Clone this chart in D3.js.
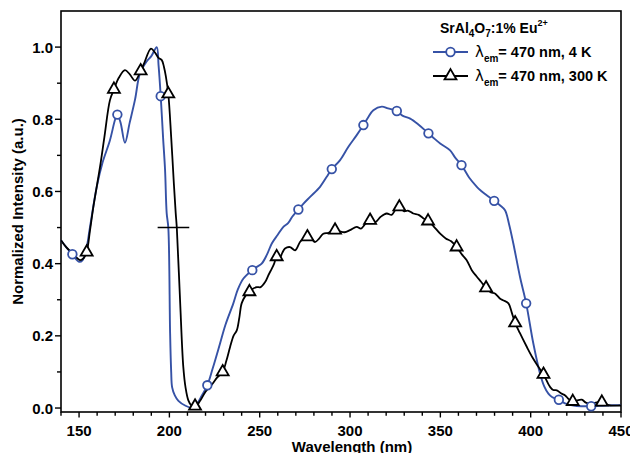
<!DOCTYPE html>
<html><head><meta charset="utf-8">
<script src="https://cdn.jsdelivr.net/npm/d3@7"></script>
<style>
body{margin:0;background:#fff;}
svg text{font-family:"Liberation Sans",Arial,sans-serif;font-weight:bold;}
</style></head>
<body><svg id="c" width="630" height="453"></svg>
<script>
// ---- data ----
const blueX = [140,143,146.3,150,152,154,156,159.8,163,167.1,170,171.2,173,175.4,178,181,183.7,187.4,190,193,194,195.2,196.5,197.6,198.5,199.4,200.4,201,201.5,203,205,208.7,212.4,215,218,221,224,228,231,235.4,238,241,245.9,248,251.1,254,256.7,260,263.1,265.7,268,271.4,274,277.9,283.4,287,289.9,294.5,299.1,303.7,307.4,310,312.9,317.6,321,325.9,329,333.3,338,343.4,347,349.9,355.4,358,361.7,366,370.2,372,376,379.8,383,385.8,388,390.4,394.1,397.5,401.5,405.2,407.5,409.8,412,415.6,419,423.7,428,433.5,438,442.2,450];
const blueY = [0.465,0.445,0.426,0.405,0.41,0.44,0.5,0.613,0.68,0.742,0.8,0.813,0.79,0.735,0.79,0.855,0.927,0.96,0.975,1.0,0.95,0.864,0.75,0.66,0.54,0.5,0.207,0.1,0.058,0.035,0.02,0.007,0.001,0.01,0.035,0.063,0.11,0.178,0.23,0.29,0.33,0.359,0.382,0.39,0.4,0.425,0.456,0.48,0.502,0.512,0.53,0.55,0.565,0.585,0.613,0.64,0.662,0.687,0.724,0.756,0.784,0.805,0.825,0.835,0.83,0.823,0.81,0.802,0.785,0.761,0.745,0.733,0.714,0.695,0.673,0.638,0.613,0.604,0.588,0.574,0.562,0.548,0.51,0.456,0.363,0.29,0.178,0.095,0.06,0.04,0.03,0.023,0.013,0.007,0.005,0.005,0.006,0.007,0.008];
const blueMarkX = [146.3,171.2,195.2,221,245.9,271.4,289.9,307.4,325.9,343.4,361.7,379.8,397.5,415.6,433.5];
const blueMarkY = [0.426,0.813,0.864,0.063,0.382,0.55,0.662,0.784,0.823,0.761,0.673,0.574,0.29,0.023,0.005];

const blackX = [140,143,146,148,150.5,152.5,154.2,156,158,161.6,164,167.1,169.3,172,175.4,178,181,184.1,186,189.8,192,194,195.8,197,198,199.4,201,202.5,203.5,204.1,205.9,207.7,209,210.5,212,214.2,217,220,224,226.5,229.5,231.5,233.6,235.5,237.3,238.7,240,242,244.3,246,248.4,250.5,253,255,256.7,258,259.4,261,262.5,264,266.8,269.6,272.3,274,276.4,278.5,280.6,283,285.2,288,291.7,294,297,300,303.7,306,308.5,311.1,314,317,320.3,323,325,327.3,330,332,335,338,340.5,343.2,346,349.9,353,356,359,362,364.5,367.4,370,372.5,375.3,378,380,383.1,385,387.7,389.5,391.4,394,397.9,401,404.3,407.1,410.8,412.5,414.5,417,419.1,421,423.3,425,428.3,430.5,432.9,436,439.4,442,444,450];
const blackY = [0.465,0.445,0.43,0.42,0.41,0.415,0.432,0.49,0.56,0.668,0.75,0.853,0.883,0.915,0.936,0.925,0.907,0.934,0.955,0.996,0.985,0.97,0.964,0.945,0.92,0.87,0.75,0.62,0.54,0.5,0.3,0.114,0.055,0.021,0.008,0.003,0.02,0.045,0.068,0.085,0.1,0.13,0.169,0.2,0.215,0.25,0.29,0.31,0.322,0.33,0.335,0.335,0.349,0.37,0.386,0.4,0.419,0.415,0.43,0.442,0.446,0.437,0.46,0.468,0.474,0.47,0.46,0.47,0.483,0.485,0.493,0.49,0.487,0.493,0.502,0.497,0.51,0.52,0.515,0.53,0.539,0.535,0.548,0.557,0.545,0.547,0.539,0.535,0.526,0.518,0.505,0.483,0.47,0.462,0.446,0.425,0.41,0.382,0.365,0.35,0.333,0.32,0.318,0.303,0.298,0.29,0.265,0.236,0.208,0.169,0.14,0.114,0.093,0.058,0.05,0.049,0.04,0.035,0.025,0.018,0.02,0.023,0.015,0.012,0.015,0.016,0.01,0.007,0.007];
const blackMarkX = [154.2,169.3,184.1,199.4,214.2,229.5,244.3,259.4,276.4,291.7,311.1,327.3,343.2,359,375.3,391.4,407.1,423.3,439.4];
const blackMarkY = [0.432,0.883,0.934,0.87,0.005,0.1,0.322,0.419,0.474,0.493,0.52,0.557,0.518,0.446,0.333,0.236,0.093,0.018,0.016];

const halfMaxX = [193.5,211];
const halfMaxY = [0.5,0.5];

const xTicks = [150,200,250,300,350,400,450];
const yTicks = [0.0,0.2,0.4,0.6,0.8,1.0];
const xDomain = [140,450];
const yDomain = [-0.011,1.1];

// ---- layout ----
const L=61,R=621,T=11,B=412;
const blue="#3652a6";
const svg=d3.select("#c");
const x=d3.scaleLinear().domain(xDomain).range([L,R]);
const y=d3.scaleLinear().domain(yDomain).range([B,T]);

// frame
svg.append("rect").attr("x",L).attr("y",T).attr("width",R-L).attr("height",B-T)
  .attr("fill","none").attr("stroke","#000").attr("stroke-width",1.6);

// x axis
const xMinor=d3.range(140,451,10);
const gx=svg.append("g").attr("transform",`translate(0,${B})`);
gx.selectAll("line").data(xMinor).join("line")
  .attr("x1",d=>x(d)).attr("x2",d=>x(d)).attr("y1",0)
  .attr("y2",d=>d%50===0?5.5:3.8).attr("stroke","#000").attr("stroke-width",1.4);
gx.selectAll("text").data(xTicks).join("text")
  .attr("x",d=>x(d)).attr("y",23.5).attr("text-anchor","middle")
  .attr("font-size",15).text(d=>d);

// y axis
const yMinor=d3.range(0,11).map(i=>i/10);
const gy=svg.append("g").attr("transform",`translate(${L},0)`);
gy.selectAll("line").data(yMinor).join("line")
  .attr("y1",d=>y(d)).attr("y2",d=>y(d)).attr("x1",0)
  .attr("x2",(d,i)=>i%2===0?-6:-4).attr("stroke","#000").attr("stroke-width",1.4);
gy.selectAll("text").data(yTicks).join("text")
  .attr("x",-8).attr("y",d=>y(d)+5.5).attr("text-anchor","end")
  .attr("font-size",15).text(d=>d.toFixed(1));

// titles
svg.append("text").attr("x",352).attr("y",451.5).attr("text-anchor","middle")
  .attr("font-size",15).text("Wavelength (nm)");
svg.append("text").attr("transform",`translate(23,${(T+B)/2}) rotate(-90)`)
  .attr("text-anchor","middle").attr("font-size",15).text("Normalized Intensity (a.u.)");

// curves
const g=svg.append("g");
const line=d3.line().x(d=>x(d[0])).y(d=>y(d[1])).curve(d3.curveCatmullRom.alpha(0.5));
g.append("path").datum(d3.zip(blueX,blueY)).attr("d",line)
  .attr("fill","none").attr("stroke",blue).attr("stroke-width",1.9);
g.append("path").datum(d3.zip(blackX,blackY)).attr("d",line)
  .attr("fill","none").attr("stroke","#000").attr("stroke-width",1.8);
g.append("path").datum(d3.zip(halfMaxX,halfMaxY)).attr("d",d3.line().x(d=>x(d[0])).y(d=>y(d[1])))
  .attr("fill","none").attr("stroke","#000").attr("stroke-width",1.6);

const tri=d3.symbol().type(d3.symbolTriangle).size(62);
g.selectAll("circle.m").data(d3.zip(blueMarkX,blueMarkY)).join("circle")
  .attr("cx",d=>x(d[0])).attr("cy",d=>y(d[1])).attr("r",4.3)
  .attr("fill","#fff").attr("stroke",blue).attr("stroke-width",1.8);
g.selectAll("path.t").data(d3.zip(blackMarkX,blackMarkY)).join("path").attr("class","t")
  .attr("d",tri).attr("transform",d=>`translate(${x(d[0])},${y(d[1])})`)
  .attr("fill","#fff").attr("stroke","#000").attr("stroke-width",1.8);

// legend
const lg=svg.append("g");
const t0=lg.append("text").attr("x",440).attr("y",33).attr("font-size",14);
t0.append("tspan").text("SrAl");
t0.append("tspan").attr("font-size",10).attr("dy",4).text("4");
t0.append("tspan").attr("dy",-4).text("O");
t0.append("tspan").attr("font-size",10).attr("dy",4).text("7");
t0.append("tspan").attr("dy",-4).text(":1% Eu");
t0.append("tspan").attr("font-size",9).attr("dy",-7).text("2+");

const rows=[{c:blue,m:"circle",t:"= 470 nm, 4 K",yy:52},{c:"#000",m:"tri",t:"= 470 nm, 300 K",yy:76}];
rows.forEach(r=>{
  lg.append("line").attr("x1",433).attr("x2",468).attr("y1",r.yy).attr("y2",r.yy)
    .attr("stroke",r.c).attr("stroke-width",1.9);
  if(r.m==="circle") lg.append("circle").attr("cx",450.5).attr("cy",r.yy).attr("r",4.3)
    .attr("fill","#fff").attr("stroke",r.c).attr("stroke-width",1.8);
  else lg.append("path").attr("d",tri).attr("transform",`translate(450.5,${r.yy})`)
    .attr("fill","#fff").attr("stroke",r.c).attr("stroke-width",1.8);
  const t=lg.append("text").attr("x",475).attr("y",r.yy+5).attr("font-size",14.5);
  t.append("tspan").attr("font-family","DejaVu Sans").attr("font-weight","normal").attr("font-size",15).text("λ");
  t.append("tspan").attr("font-size",10).attr("dy",5).text("em");
  t.append("tspan").attr("dy",-5).text(r.t);
});
</script></body></html>
